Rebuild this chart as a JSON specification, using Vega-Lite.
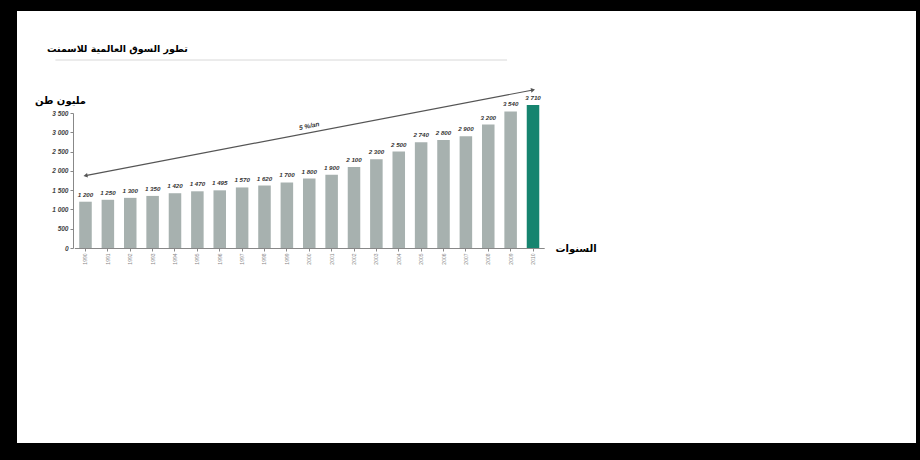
{
  "$schema": "https://vega.github.io/schema/vega-lite/v6.json",
  "autosize": {"type": "fit", "contains": "padding"},
  "width": 920,
  "height": 460,
  "padding": {"left": 16, "top": 10, "right": 3, "bottom": 16},
  "background": "black",
  "config": {
    "view": {"fill": "white", "stroke": "black", "strokeWidth": 2},
    "locale": {"number": {"decimal": ".", "thousands": " ", "grouping": [3], "currency": ["", ""]}}
  },
  "title": {
    "text": "تطور السوق العالمية للاسمنت",
    "anchor": "start",
    "frame": "group",
    "font": "DejaVu Sans",
    "fontSize": 9.5,
    "fontWeight": "bold",
    "color": "black",
    "offset": -43,
    "dx": 31
  },
  "datasets": {
    "prod": [
      {"year": "1990", "value": 1200},
      {"year": "1991", "value": 1250},
      {"year": "1992", "value": 1300},
      {"year": "1993", "value": 1350},
      {"year": "1994", "value": 1420},
      {"year": "1995", "value": 1470},
      {"year": "1996", "value": 1495},
      {"year": "1997", "value": 1570},
      {"year": "1998", "value": 1620},
      {"year": "1999", "value": 1700},
      {"year": "2000", "value": 1800},
      {"year": "2001", "value": 1900},
      {"year": "2002", "value": 2100},
      {"year": "2003", "value": 2300},
      {"year": "2004", "value": 2500},
      {"year": "2005", "value": 2740},
      {"year": "2006", "value": 2800},
      {"year": "2007", "value": 2900},
      {"year": "2008", "value": 3200},
      {"year": "2009", "value": 3540},
      {"year": "2010", "value": 3710}
    ],
    "trend": [
      {"year": "1990", "value": 1877},
      {"year": "2010", "value": 4097}
    ],
    "trendLabel": [
      {"year": "2000", "value": 3163, "label": "5 %/an"}
    ]
  },
  "layer": [
    {
      "data": {"name": "prod"},
      "mark": {"type": "bar"},
      "encoding": {
        "x": {
          "field": "year",
          "type": "nominal",
          "sort": null,
          "scale": {"range": [58.3, 528.2], "paddingInner": 0.44, "paddingOuter": 0.22},
          "axis": {
            "title": "السنوات",
            "orient": "bottom",
            "offset": -196,
            "titleX": 539,
            "titleY": 0,
            "titleAlign": "left",
            "titleBaseline": "middle",
            "titleAngle": 0,
            "titleFont": "DejaVu Sans",
            "titleFontSize": 10,
            "titleFontWeight": "bold",
            "titleColor": "black",
            "labelAngle": -90,
            "labelFontSize": 5,
            "labelColor": "#888",
            "labelFont": "'Liberation Sans', sans-serif",
            "tickSize": 3,
            "tickColor": "#888",
            "domainColor": "#888",
            "grid": false
          }
        },
        "y": {
          "field": "value",
          "type": "quantitative",
          "scale": {"domain": [0, 3500], "range": [238, 103], "nice": false, "clamp": false},
          "axis": {
            "title": "مليون طن",
            "titleAngle": 0,
            "titleAlign": "center",
            "titleBaseline": "middle",
            "titleX": -13,
            "titleY": 90,
            "titleFont": "DejaVu Sans",
            "titleFontSize": 10,
            "titleFontWeight": "bold",
            "titleColor": "black",
            "offset": -57,
            "values": [0, 500, 1000, 1500, 2000, 2500, 3000, 3500],
            "labelExpr": "replace(format(datum.value, ',d'), ',', ' ')",
            "labelFont": "'Liberation Sans', sans-serif",
            "labelFontStyle": "italic",
            "labelFontWeight": "bold",
            "labelFontSize": 6.5,
            "labelColor": "#444",
            "tickSize": 3,
            "tickColor": "#888",
            "domainColor": "#888",
            "grid": false
          }
        },
        "color": {
          "condition": {"test": "datum.year == '2010'", "value": "#16846f"},
          "value": "#a7b1af"
        }
      }
    },
    {
      "data": {"name": "prod"},
      "mark": {"type": "text", "dy": -7, "font": "'Liberation Sans', sans-serif", "fontStyle": "italic", "fontWeight": "bold", "fontSize": 6.2, "color": "#333"},
      "encoding": {
        "x": {"field": "year", "type": "nominal", "sort": null},
        "y": {"field": "value", "type": "quantitative"},
        "text": {"field": "value", "type": "quantitative", "format": ","}
      }
    },
    {
      "data": {"name": "trend"},
      "mark": {"type": "line", "color": "#555", "strokeWidth": 1.2},
      "encoding": {
        "x": {"field": "year", "type": "nominal", "sort": null},
        "y": {"field": "value", "type": "quantitative"}
      }
    },
    {
      "data": {"name": "trend"},
      "mark": {"type": "point", "filled": true, "color": "#555", "size": 22, "angle": 349, "opacity": 1},
      "encoding": {
        "x": {"field": "year", "type": "nominal", "sort": null},
        "y": {"field": "value", "type": "quantitative"},
        "shape": {"condition": {"test": "datum.year == '1990'", "value": "triangle-left"}, "value": "triangle-right"}
      }
    },
    {
      "data": {"name": "trendLabel"},
      "mark": {"type": "text", "angle": 349, "font": "'Liberation Sans', sans-serif", "fontStyle": "italic", "fontWeight": "bold", "fontSize": 6.5, "color": "#333"},
      "encoding": {
        "x": {"field": "year", "type": "nominal", "sort": null},
        "y": {"field": "value", "type": "quantitative"},
        "text": {"field": "label"}
      }
    },
    {
      "data": {"values": [{}]},
      "mark": {"type": "rule", "color": "#d8d8d8", "strokeWidth": 1},
      "encoding": {
        "x": {"datum": "1990", "bandPosition": -1.9},
        "x2": {"datum": "2008", "bandPosition": 2},
        "y": {"datum": 4874}
      }
    }
  ]
}
